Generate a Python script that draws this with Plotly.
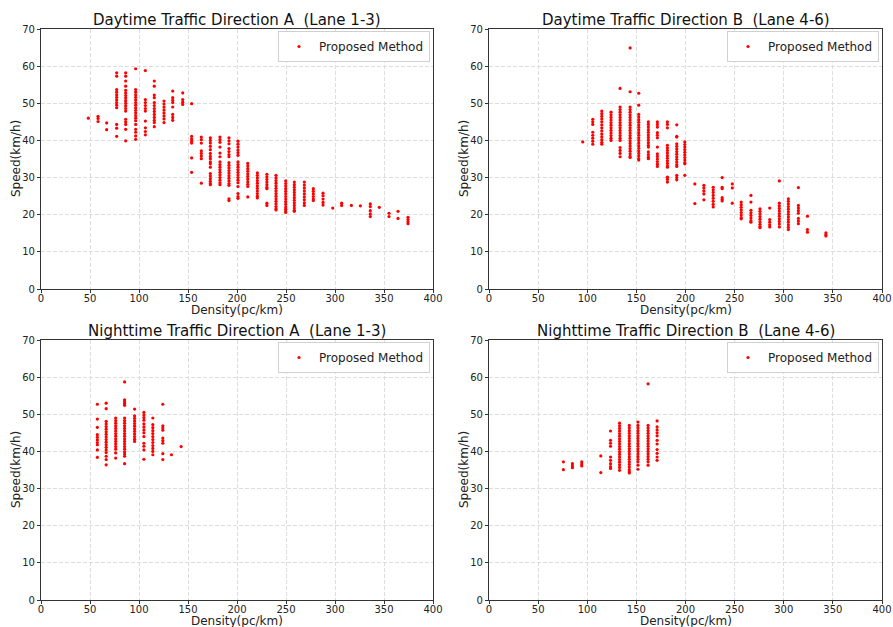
import plotly.graph_objects as go

# ---------------- data ----------------
TITLES = ["Daytime Traffic Direction A  (Lane 1-3)", "Daytime Traffic Direction B  (Lane 4-6)",
          "Nighttime Traffic Direction A  (Lane 1-3)", "Nighttime Traffic Direction B  (Lane 4-6)"]
SERIES_NAME = "Proposed Method"
X_LABEL = "Density(pc/km)"
Y_LABEL = "Speed(km/h)"
X_TICKS = [0, 50, 100, 150, 200, 250, 300, 350, 400]
Y_TICKS = [0, 10, 20, 30, 40, 50, 60, 70]

DENS_DAY_A = [48.3, 58.2, 67.0, 77.2, 86.4, 96.6, 106.5, 115.6, 125.5, 134.4, 144.6, 153.7, 163.6,
              172.8, 182.6, 191.8, 201.0, 211.0, 220.8, 230.5, 239.8, 249.7, 258.5, 268.7, 277.9,
              287.8, 297.7, 306.8, 316.7, 325.9, 336.0, 345.2, 355.1, 364.3, 374.5]
SPEED_DAY_A = [
    [46.0],
    [46.5, 45.9, 45.1],
    [44.7, 42.9],
    [58.2, 57.3, 53.7, 53.0, 52.3, 51.6, 50.9, 50.2, 49.5, 48.8, 44.3, 43.3, 41.1],
    [58.2, 57.3, 56.0, 54.6, 53.5, 52.8, 52.1, 51.4, 50.7, 50.0, 49.3, 48.6, 47.9, 45.7, 45.0, 44.3, 43.0, 39.9],
    [59.3, 53.7, 53.0, 52.3, 51.6, 50.9, 50.2, 49.5, 48.8, 48.1, 47.4, 46.7, 46.0, 45.3, 44.3, 43.0, 42.2, 41.2, 40.3],
    [58.8, 51.0, 50.2, 49.4, 48.6, 47.9, 45.2, 43.4, 42.4, 41.5],
    [56.0, 54.6, 52.2, 51.5, 50.2, 49.4, 48.6, 47.8, 47.0, 46.2, 45.4, 44.8, 43.7],
    [50.6, 49.8, 49.0, 48.2, 47.4, 46.6, 45.8, 44.8],
    [53.3, 51.5, 50.8, 50.2, 49.0, 47.0, 46.2, 45.4],
    [52.8, 51.0, 50.3, 49.7],
    [49.9, 41.1, 40.4, 39.8, 39.3, 35.3, 31.4],
    [40.9, 40.2, 39.3, 37.2, 36.5, 35.8, 35.1, 28.5],
    [40.7, 40.0, 39.3, 38.4, 37.5, 36.5, 35.7, 35.1, 34.2, 33.7, 32.8, 31.1, 30.4, 29.7, 29.0, 28.4, 28.1],
    [40.9, 40.2, 39.5, 38.2, 36.6, 35.6, 34.2, 33.5, 32.8, 32.1, 31.4, 30.7, 30.0, 29.3, 28.6, 28.1],
    [40.7, 39.9, 39.1, 37.8, 37.0, 36.2, 35.6, 34.0, 33.3, 32.6, 31.9, 31.2, 30.5, 29.8, 29.1, 28.4, 27.9, 24.3, 23.8],
    [39.8, 39.0, 38.2, 37.4, 36.7, 36.0, 34.2, 33.5, 32.8, 32.1, 31.4, 30.7, 30.0, 29.3, 28.6, 27.6, 25.7, 24.9, 24.4],
    [33.8, 33.1, 32.4, 31.7, 31.0, 30.3, 29.6, 28.9, 28.2, 27.6, 24.8],
    [31.3, 30.6, 29.9, 29.2, 28.5, 27.8, 27.1, 26.4, 25.7, 25.0, 24.5],
    [30.9, 30.2, 29.5, 28.8, 28.1, 27.4, 27.0, 23.1, 22.5],
    [30.6, 29.9, 29.2, 28.5, 27.8, 27.1, 26.4, 25.7, 25.0, 24.3, 23.6, 22.9, 22.2, 21.6, 21.3],
    [29.1, 28.4, 27.7, 27.0, 26.3, 25.6, 24.9, 24.2, 23.5, 22.8, 22.1, 21.5, 21.0, 20.6],
    [28.8, 28.1, 27.4, 26.7, 26.0, 25.3, 24.6, 23.9, 23.2, 22.5, 21.8, 21.2, 20.9],
    [28.8, 28.0, 27.2, 26.4, 25.6, 24.8, 24.0, 23.2, 22.5],
    [27.0, 26.3, 25.6, 24.9, 24.2, 23.8],
    [25.8, 25.1, 24.2, 23.3, 22.6],
    [21.8],
    [23.1, 22.5],
    [22.5],
    [22.4],
    [22.9, 22.2, 21.1, 20.2, 19.5],
    [22.0],
    [20.4, 19.5],
    [20.9, 19.0],
    [19.3, 18.7, 18.1, 17.6],
]

DENS_DAY_B = [95.4, 105.6, 114.8, 124.2, 133.4, 143.6, 152.4, 162.2, 171.4, 181.6, 191.1, 199.3,
              209.5, 218.7, 228.2, 237.3, 247.6, 256.7, 266.6, 275.8, 285.7, 295.5, 304.7, 314.9,
              324.1, 342.9]
SPEED_DAY_B = [
    [39.6],
    [45.7, 45.0, 44.3, 42.2, 41.4, 40.6, 39.8, 39.0],
    [47.9, 47.2, 46.5, 45.8, 45.0, 44.2, 43.4, 42.6, 41.8, 41.0, 40.2, 39.5, 39.0],
    [47.6, 46.9, 46.2, 45.5, 44.8, 44.1, 43.4, 42.7, 42.0, 41.3, 40.6, 40.0],
    [54.0, 49.0, 48.3, 47.6, 46.9, 46.2, 45.5, 44.8, 44.1, 43.4, 42.7, 42.0, 41.3, 40.6, 40.0, 38.1, 37.3, 36.5, 35.6],
    [64.9, 53.1, 49.0, 48.3, 47.6, 46.9, 46.2, 45.5, 44.8, 44.1, 43.4, 42.7, 42.0, 41.3, 40.6, 39.9, 39.2, 38.5,
     37.8, 37.1, 36.4, 35.7, 35.4],
    [52.7, 49.5, 47.0, 46.3, 45.6, 44.9, 44.2, 43.5, 42.8, 42.1, 41.4, 40.7, 40.0, 39.3, 38.6, 37.9, 37.2, 36.5,
     35.8, 35.1, 34.7],
    [45.0, 44.3, 43.6, 42.9, 42.2, 41.5, 40.8, 40.1, 39.4, 38.7, 38.2, 36.9, 36.2, 35.5, 35.1],
    [45.0, 44.3, 43.6, 42.1, 41.4, 40.7, 38.2, 36.4, 35.7, 35.0, 34.3, 33.6, 33.0],
    [45.0, 44.3, 43.4, 38.7, 38.0, 37.3, 36.6, 35.9, 35.2, 34.5, 33.8, 33.1, 32.8, 30.1, 29.5, 28.8],
    [44.2, 41.1, 40.9, 39.1, 38.4, 37.7, 37.0, 36.3, 35.6, 34.9, 34.2, 33.5, 33.0, 30.6, 30.0, 29.4],
    [39.6, 38.9, 38.2, 37.5, 36.8, 36.1, 35.4, 34.7, 34.0, 33.7, 30.6],
    [28.3, 23.0],
    [27.9, 27.2, 26.4, 25.6, 24.0],
    [27.4, 26.7, 26.0, 25.2, 24.4, 23.6, 22.8, 22.1],
    [30.0, 27.4, 27.0, 24.6, 24.1, 23.7],
    [28.3, 27.2, 23.1],
    [23.4, 22.7, 22.0, 21.3, 20.6, 19.9, 19.2, 18.9],
    [25.2, 23.4, 21.2, 20.5, 19.8, 19.1, 18.4, 18.0],
    [21.6, 20.9, 20.2, 19.5, 18.8, 18.1, 17.4, 16.8, 16.5],
    [21.8, 18.7, 18.0, 17.3, 16.7],
    [29.1, 23.1, 22.4, 21.7, 21.0, 20.3, 19.6, 18.9, 18.2, 17.5, 16.7],
    [24.3, 23.6, 22.9, 22.2, 21.5, 20.8, 20.1, 19.4, 18.7, 18.0, 17.3, 16.6, 16.0],
    [27.3, 22.5, 21.8, 21.1, 20.4, 19.0, 18.3, 17.6],
    [19.6, 16.0, 15.3],
    [15.1, 14.6, 14.3],
]

DENS_NIGHT_A = [57.5, 66.5, 76.2, 85.3, 95.5, 105.0, 114.1, 124.3, 133.1, 143.0]
SPEED_NIGHT_A = [
    [52.7, 48.7, 46.5, 44.5, 43.8, 43.1, 42.4, 41.8, 40.4, 38.4],
    [53.0, 51.5, 48.1, 47.4, 46.7, 46.0, 45.3, 44.6, 43.9, 43.2, 42.5, 41.8, 41.1, 40.4, 39.7, 38.7, 37.8, 36.4],
    [49.0, 48.3, 47.6, 46.9, 46.2, 45.5, 44.8, 44.1, 43.4, 42.7, 42.0, 41.3, 40.6, 39.6, 38.2],
    [58.7, 53.9, 53.4, 52.9, 52.4, 49.0, 48.3, 47.6, 46.9, 46.2, 45.5, 44.8, 44.1, 43.4, 42.7, 42.0, 41.3, 40.6,
     39.9, 39.3, 38.7, 36.7],
    [51.4, 49.6, 48.9, 48.2, 47.5, 46.8, 46.1, 45.4, 44.7, 44.0, 43.3, 42.7],
    [50.5, 49.8, 49.1, 48.4, 47.4, 46.6, 45.8, 45.0, 44.0, 42.2, 41.4, 40.4, 37.9],
    [49.0, 47.2, 46.4, 45.6, 44.8, 44.0, 43.2, 42.4, 41.6, 40.8, 40.0, 39.1],
    [52.7, 46.9, 46.3, 45.7, 43.6, 42.9, 42.2, 39.4, 37.8],
    [39.1],
    [41.3],
]

DENS_NIGHT_B = [75.7, 84.9, 94.4, 113.8, 123.7, 132.9, 142.8, 151.6, 161.9, 171.1]
SPEED_NIGHT_B = [
    [37.2, 35.1],
    [36.7, 36.1, 35.6],
    [37.2, 36.6, 36.1],
    [38.8, 34.3],
    [45.5, 43.0, 42.2, 41.4, 38.5, 37.6, 36.7, 35.9, 35.4],
    [47.6, 46.9, 46.2, 45.5, 44.8, 44.1, 43.4, 42.7, 42.0, 41.3, 40.6, 39.9, 39.2, 38.5, 37.8, 37.1, 36.4, 35.7, 34.9],
    [47.0, 46.3, 45.6, 44.9, 44.2, 43.5, 42.8, 42.1, 41.4, 40.7, 40.0, 39.3, 38.6, 37.9, 37.2, 36.5, 35.8, 35.1,
     34.5, 34.2],
    [47.9, 47.0, 46.3, 45.6, 44.9, 44.2, 43.5, 42.8, 42.1, 41.4, 40.7, 40.0, 39.3, 38.6, 37.9, 37.2, 36.3, 35.2],
    [58.2, 47.0, 46.3, 45.6, 44.9, 44.2, 43.5, 42.8, 42.1, 41.4, 40.7, 40.0, 39.3, 38.6, 37.9, 37.2, 36.3],
    [48.2, 46.6, 45.8, 45.0, 44.2, 43.0, 42.0, 40.5, 39.5, 38.5, 37.6],
]

PANELS = [(DENS_DAY_A, SPEED_DAY_A), (DENS_DAY_B, SPEED_DAY_B),
          (DENS_NIGHT_A, SPEED_NIGHT_A), (DENS_NIGHT_B, SPEED_NIGHT_B)]


def flatten(dens, speeds):
    xs, ys = [], []
    for d, col in zip(dens, speeds):
        for s in col:
            xs.append(d)
            ys.append(s)
    return xs, ys


# ---------------- figure ----------------
W, H = 893, 627
ML, MR, MT, MB = 41, 11, 29, 27
PW, PH = W - ML - MR, H - MT - MB
X_DOMS = [[0, 392 / PW], [448 / PW, 1]]
Y_DOMS = [[311 / PH, 1], [0, 260 / PH]]

FONT = "DejaVu Sans"
TXT = "#222222"
fig = go.Figure()

for i, (dens, speeds) in enumerate(PANELS):
    xs, ys = flatten(dens, speeds)
    n = i + 1
    suffix = "" if n == 1 else str(n)
    xa, ya = "x" + suffix, "y" + suffix
    fig.add_trace(go.Scatter(
        x=xs, y=ys, mode="markers", name=SERIES_NAME,
        marker=dict(color="#ff0000", size=3.2, line=dict(width=0)),
        xaxis=xa, yaxis=ya,
        legend="legend" + suffix, showlegend=True,
    ))
    row, col = divmod(i, 2)
    axis_common = dict(
        showline=True, linecolor="#333333", linewidth=1.2, mirror=True,
        ticks="outside", ticklen=3, tickcolor="#333333",
        tickfont=dict(family=FONT, size=10, color=TXT),
        showgrid=True, gridcolor="#dddddd", griddash="4px,2px", gridwidth=0.8,
        zeroline=False, automargin=False,
    )
    fig.update_layout(**{
        "xaxis" + suffix: dict(
            axis_common, domain=X_DOMS[col], range=[0, 400], tickvals=X_TICKS,
            anchor=ya, ticklabelstandoff=-3,
        ),
        "yaxis" + suffix: dict(
            axis_common, domain=Y_DOMS[row], range=[0, 70], tickvals=Y_TICKS,
            anchor=xa,
        ),
    })
    # subplot title
    fig.add_annotation(
        text=TITLES[i], xref=xa + " domain", yref=ya + " domain",
        x=0.5, y=1, xanchor="center", yanchor="bottom", yshift=-2, showarrow=False,
        font=dict(family=FONT, size=15, color="#111111"),
    )
    # x axis label
    fig.add_annotation(
        text=X_LABEL, xref=xa + " domain", yref=ya + " domain",
        x=0.5, y=0, xanchor="center", yanchor="middle", yshift=-21, showarrow=False,
        font=dict(family=FONT, size=12, color=TXT),
    )
    # y axis label
    fig.add_annotation(
        text=Y_LABEL, xref=xa + " domain", yref=ya + " domain", textangle=-90,
        x=0, y=0.5, xanchor="center", yanchor="middle", xshift=-25, showarrow=False,
        font=dict(family=FONT, size=12, color=TXT),
    )
    lx = X_DOMS[col][1] - 3 / PW
    ly = Y_DOMS[row][1] - 2 / PH
    fig.update_layout(**{
        "legend" + suffix: dict(
            x=lx, y=ly, xanchor="right", yanchor="top", xref="paper", yref="paper",
            bgcolor="white", bordercolor="#d0d0d0", borderwidth=1,
            font=dict(family=FONT, size=12, color=TXT),
            itemsizing="trace", tracegroupgap=0, itemwidth=30,
        )
    })

fig.update_layout(
    width=W, height=H,
    margin=dict(l=ML, r=MR, t=MT, b=MB, pad=0),
    paper_bgcolor="white", plot_bgcolor="white",
    font=dict(family=FONT),
)

fig.write_html("out.html")
